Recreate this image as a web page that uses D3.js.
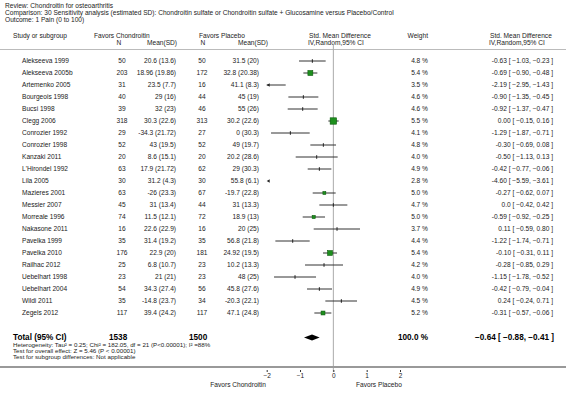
<!DOCTYPE html>
<html><head><meta charset="utf-8">
<script src="https://cdn.jsdelivr.net/npm/d3@7"></script>
<style>
html,body{margin:0;padding:0;background:#fff;}
text{font-family:"Liberation Sans",Arial,sans-serif;fill:#222;}
</style></head>
<body><svg id="c" width="566" height="397"></svg>
<script>
const studies = ["Alekseeva 1999","Alekseeva 2005b","Artemenko 2005","Bourgeois 1998","Bucsi 1998","Clegg 2006","Conrozier 1992","Conrozier 1998","Kanzaki 2011","L'Hirondel 1992","Lila 2005","Mazieres 2001","Messier 2007","Morreale 1996","Nakasone 2011","Pavelka 1999","Pavelka 2010","Railhac 2012","Uebelhart 1998","Uebelhart 2004","Wildi 2011","Zegels 2012"];
const chondN = [50,203,31,40,39,318,29,52,20,63,30,63,45,74,16,35,176,25,23,54,35,117];
const chondMeanSD = ["20.6 (13.6)","18.96 (19.86)","23.5 (7.7)","29 (16)","32 (23)","30.3 (22.6)","-34.3 (21.72)","43 (19.5)","8.6 (15.1)","17.9 (21.72)","31.2 (4.3)","-26 (23.3)","31 (13.4)","11.5 (12.1)","22.6 (22.9)","31.4 (19.2)","22.9 (20)","6.8 (10.7)","21 (21)","34.3 (27.4)","-14.8 (23.7)","39.4 (24.2)"];
const placN = [50,172,16,44,46,313,27,52,20,62,30,67,44,72,16,35,181,23,23,56,34,117];
const placMeanSD = ["31.5 (20)","32.8 (20.38)","41.1 (8.3)","45 (19)","55 (26)","30.2 (22.6)","0 (30.3)","49 (19.7)","20.2 (28.6)","29 (30.3)","55.8 (6.1)","-19.7 (22.8)","31 (13.3)","18.9 (13)","20 (25)","56.8 (21.8)","24.92 (19.5)","10.2 (13.3)","48 (25)","45.8 (27.6)","-20.3 (22.1)","47.1 (24.8)"];
const weights = [4.8,5.4,3.5,4.6,4.6,5.5,4.1,4.8,4.0,4.9,2.8,5.0,4.7,5.0,3.7,4.4,5.4,4.2,4.0,4.9,4.5,5.2];
const smd = [-0.63,-0.69,-2.19,-0.90,-0.92,0.00,-1.29,-0.30,-0.50,-0.42,-4.60,-0.27,0.0,-0.59,0.11,-1.22,-0.10,-0.28,-1.15,-0.42,0.24,-0.31];
const ciLow = [-1.03,-0.90,-2.95,-1.35,-1.37,-0.15,-1.87,-0.69,-1.13,-0.77,-5.59,-0.62,-0.42,-0.92,-0.59,-1.74,-0.31,-0.85,-1.78,-0.79,-0.24,-0.57];
const ciHigh = [-0.23,-0.48,-1.43,-0.45,-0.47,0.16,-0.71,0.08,0.13,-0.06,-3.61,0.07,0.42,-0.25,0.80,-0.71,0.11,0.29,-0.52,-0.04,0.71,-0.06];
const smdLabels = ["-0.63","-0.69","-2.19","-0.90","-0.92","0.00","-1.29","-0.30","-0.50","-0.42","-4.60","-0.27","0.0","-0.59","0.11","-1.22","-0.10","-0.28","-1.15","-0.42","0.24","-0.31"];
const total = {chondN:1538, placN:1500, weight:"100.0 %", smd:-0.64, lo:-0.88, hi:-0.41};
const axisTicks = [-2,-1,0,1,2];
const titleLines = ["Review:  Chondroitin for osteoarthritis","Comparison:  30 Sensitivity analysis (estimated SD): Chondroitin sulfate or Chondroitin sulfate + Glucosamine versus Placebo/Control","Outcome:  1 Pain (0 to 100)"];
const footLines = ["Heterogeneity: Tau\u00B2 = 0.25; Chi\u00B2 = 182.05, df = 21 (P<0.00001); I\u00B2 =88%","Test for overall effect: Z = 5.46 (P < 0.00001)","Test for subgroup differences: Not applicable"];

const svg = d3.select("#c");
const fs = 6.6;
const x = d3.scaleLinear().domain([-2,2]).range([266.7,400]);
const y = d3.scaleBand().domain(d3.range(studies.length)).range([55,319]);
const yc = i => y(i) + y.bandwidth()/2;
const fmt = d3.format(".2f");

function txt(xp, yp, s, anchor, size, weight, color){
  return svg.append("text").attr("x",xp).attr("y",yp).attr("text-anchor",anchor||"start")
    .attr("dominant-baseline","middle").style("font-size",(size||fs)+"px")
    .style("font-weight",weight||"normal").style("fill",color||"#222").text(s);
}
titleLines.forEach((s,i)=>txt(5, 6+7*i, s));

// header
txt(13,36,"Study or subgroup");
txt(94,36,"Favors Chondroitin");
txt(119,43,"N","middle");
txt(147,43,"Mean(SD)");
txt(199,36,"Favors Placebo");
txt(203,43,"N","middle");
txt(238,43,"Mean(SD)");
txt(309,36,"Std. Mean Difference");
txt(308,43,"IV,Random,95% CI");
txt(428,36,"Weight","end");
txt(490,36,"Std. Mean Difference");
txt(489,43,"IV,Random,95% CI");
svg.append("line").attr("x1",0).attr("x2",566).attr("y1",49.5).attr("y2",49.5).attr("stroke","#bbb").attr("stroke-width",1);

// zero line
svg.append("line").attr("x1",x(0)).attr("x2",x(0)).attr("y1",44).attr("y2",372).attr("stroke","#aaa").attr("stroke-width",1);

const size = d3.scaleSqrt().domain([0,631]).range([0,6.4]);
const rows = svg.append("g");
studies.forEach((s,i)=>{
  const yy = yc(i);
  txt(22,yy,s);
  txt(122,yy,chondN[i],"middle");
  txt(176,yy,chondMeanSD[i],"end");
  txt(202,yy,placN[i],"middle");
  txt(259,yy,placMeanSD[i],"end");
  txt(428,yy,weights[i].toFixed(1)+" %","end");
  txt(553,yy,smdLabels[i]+" [ "+fmt(ciLow[i])+", "+fmt(ciHigh[i])+" ]","end");
  const [d0,d1] = x.domain();
  const lo = Math.max(ciLow[i],d0), hi = Math.min(ciHigh[i],d1);
  if (hi > lo) {
    rows.append("line").attr("x1",x(lo)).attr("x2",x(hi)).attr("y1",yy).attr("y2",yy).attr("stroke","#333").attr("stroke-width",1);
  }
  if (ciLow[i] < d0) {
    const ax = x(d0);
    rows.append("path").attr("d",`M${ax},${yy} l3,-1.8 l0,3.6 Z`).attr("fill","#222");
  }
  const side = size(chondN[i]+placN[i]);
  if (smd[i] >= d0 && smd[i] <= d1) {
    if (side >= 2.9) {
      rows.append("rect").attr("x",x(smd[i])-side/2).attr("y",yy-side/2).attr("width",side).attr("height",side)
        .attr("fill","#1d8f1d").attr("stroke","#0a5a0a").attr("stroke-width",0.6);
    } else {
      rows.append("line").attr("x1",x(smd[i])).attr("x2",x(smd[i])).attr("y1",yy-1.8).attr("y2",yy+1.8).attr("stroke","#222").attr("stroke-width",1);
    }
  }
});

// total
const ty = 337.5;
txt(13,ty,"Total (95% CI)","start",8.2,"bold","#000");
txt(109,ty,total.chondN,"start",8.2,"bold","#000");
txt(189,ty,total.placN,"start",8.2,"bold","#000");
txt(428,ty,total.weight,"end",8.2,"bold","#000");
txt(554,ty,fmt(total.smd)+" [ "+fmt(total.lo)+", "+fmt(total.hi)+" ]","end",8.2,"bold","#000");
svg.append("path").attr("d",`M${x(total.lo)},${ty} L${x(total.smd)},${ty-3} L${x(total.hi)},${ty} L${x(total.smd)},${ty+3} Z`).attr("fill","#000");
footLines.forEach((s,i)=>txt(13,345.5+5.8*i,s,"start",6.2));

// bottom rule + axis
svg.append("line").attr("x1",0).attr("x2",566).attr("y1",367).attr("y2",367).attr("stroke","#999").attr("stroke-width",2);
const axis = svg.append("g").attr("transform","translate(0,370)").call(d3.axisBottom(x).tickValues(axisTicks).tickSize(2).tickFormat(d3.format("d")));
axis.select(".domain").remove();
axis.selectAll("line").attr("stroke","#333");
axis.selectAll("text").style("font-size","6.5px").style("font-family","Liberation Sans, Arial, sans-serif").attr("fill","#222").attr("dy","0.5em");
txt(266,385,"Favors Chondroitin","end",6.6);
txt(356,385,"Favors Placebo","start",6.6);
</script></body></html>
